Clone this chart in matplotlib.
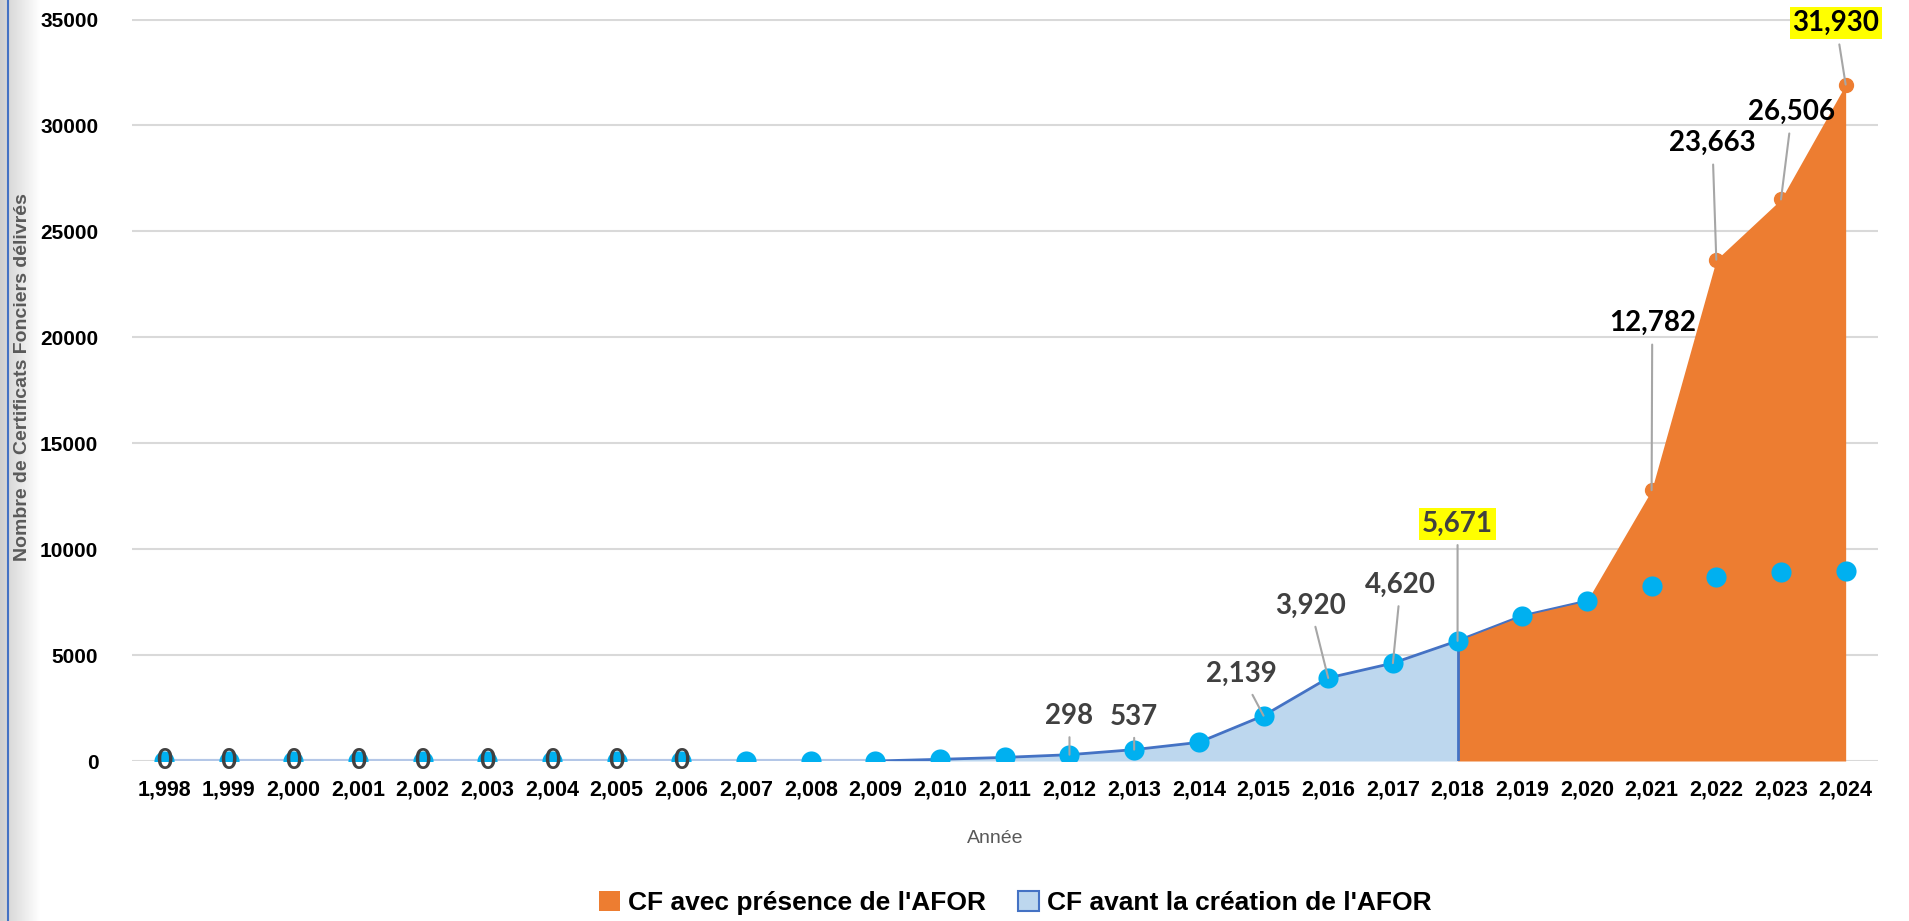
import numpy as np
import matplotlib.pyplot as plt
from matplotlib.patches import Patch
from matplotlib.colors import LinearSegmentedColormap

years = list(range(1998, 2025))

# CF cumulés avant la création de l'AFOR (série bleue)
cf_avant = [0, 0, 0, 0, 0, 0, 0, 0, 0, 0, 0, 0,
            80, 170, 298, 537, 880, 2139, 3920, 4620, 5671,
            6850, 7550, 8270, 8680, 8900, 8960]

# CF cumulés avec présence de l'AFOR (série orange, à partir de 2018)
afor_years = [2018, 2019, 2020, 2021, 2022, 2023, 2024]
cf_afor = [5671, 6850, 7550, 12782, 23663, 26506, 31930]

# étiquettes de données : année et position (x, y) du texte
blue_lbl_years = [2012, 2013, 2015, 2016, 2017, 2018]
blue_lbl_xy = [(14.0, 2130), (15.0, 2100), (16.66, 4100), (17.72, 7335), (19.12, 8312), (20.0, 11199)]
orange_lbl_years = [2021, 2022, 2023, 2024]
orange_lbl_xy = [(23.01, 20663), (23.94, 29161), (25.17, 30625), (25.85, 34827)]
highlight_years = [2018, 2024]

NARROW = ['Liberation Sans Narrow', 'Liberation Sans', 'DejaVu Sans']
LABEL = ['Lato', 'DejaVu Sans']

BLUE_FILL = '#BDD7EE'
BLUE_LINE = '#4472C4'
BLUE_DOT = '#00B0F0'
ORANGE = '#ED7D31'
LEADER = '#A6A6A6'

W, H = 1909, 921
fig = plt.figure(figsize=(W / 100, H / 100), dpi=100, facecolor='white')
ax = fig.add_axes([131.6 / W, 1 - 761 / H, (1878 - 131.6) / W, (761 - 19.5) / H])

x = np.arange(len(years))
xa = np.array([years.index(y) for y in afor_years])
i18 = years.index(2018)
i09 = years.index(2009)

# aire bleue jusqu'en 2018, ligne bleue, puis aire orange par-dessus
ax.fill_between(x[:i18 + 1], cf_avant[:i18 + 1], color=BLUE_FILL, lw=0, zorder=1)
ax.plot(x[:i09 + 1], cf_avant[:i09 + 1], color='#B4C7E7', lw=3, zorder=2)
ax.plot(x[i09:], cf_avant[i09:], color=BLUE_LINE, lw=2, zorder=2)
ax.fill_between(xa, cf_afor, color=ORANGE, lw=0, zorder=3)
ax.vlines(i18, 0, cf_avant[i18], color=BLUE_LINE, lw=2, zorder=4)

ax.plot(xa, cf_afor, 'o', ms=10, color=ORANGE, zorder=5)
ax.plot(x, cf_avant, 'o', ms=14.5, color=BLUE_DOT, mec='none', zorder=6)

# zéros affichés sur les premiers points
for i in range(years.index(2006) + 1):
    ax.text(x[i], cf_avant[i], '0', ha='center', va='center', fontsize=20,
            family=LABEL, fontweight='bold', color='#404040', zorder=7)


def label(year, value, pos, color):
    hl = year in highlight_years
    bbox = dict(boxstyle='square,pad=0.1', fc='#FFFF00', ec='none') if hl else None
    ax.annotate(f'{value:,}', xy=(years.index(year), value), xytext=pos,
                ha='center', va='center', fontsize=20, family=LABEL,
                fontweight='bold', color=color, bbox=bbox, zorder=8,
                arrowprops=dict(arrowstyle='-', color=LEADER, lw=1.5,
                                shrinkA=4, shrinkB=0))


for yr, pos in zip(blue_lbl_years, blue_lbl_xy):
    label(yr, cf_avant[years.index(yr)], pos, '#404040')
for yr, pos in zip(orange_lbl_years, orange_lbl_xy):
    label(yr, cf_afor[afor_years.index(yr)], pos, '#000000')

ax.set_xlim(-0.5, len(years) - 0.5)
ax.set_ylim(0, 35000)
ax.set_yticks(np.arange(0, 35001, 5000))
ax.set_xticks(x)
ax.set_xticklabels([f'{y:,}' for y in years])
ax.grid(axis='y', color='#D9D9D9', lw=1.5, zorder=0)
ax.set_axisbelow(True)
for s in ax.spines.values():
    s.set_visible(False)
ax.tick_params(length=0)
ax.tick_params(axis='x', pad=13)
ax.tick_params(axis='y', pad=24)
for t in ax.get_xticklabels():
    t.set_family(NARROW)
    t.set_fontweight('bold')
    t.set_fontsize(15.5)
for t in ax.get_yticklabels():
    t.set_family(NARROW)
    t.set_fontweight('bold')
    t.set_fontsize(15)
ax.set_facecolor('none')

fig.text(23 / W, 1 - 377 / H, 'Nombre de Certificats Fonciers délivrés', rotation=90,
         ha='center', va='center', fontsize=14, family=NARROW, fontweight='bold',
         color='#595959')
fig.text(995 / W, 1 - 838 / H, 'Année', ha='center', va='center', fontsize=14,
         family=NARROW, color='#595959')

handles = [Patch(fc=ORANGE, ec='none'), Patch(fc=BLUE_FILL, ec=BLUE_LINE, lw=1.5)]
fig.legend(handles, ["CF avec présence de l'AFOR", "CF avant la création de l'AFOR"],
           loc='center', bbox_to_anchor=(1015 / W, 1 - 903 / H), ncol=2, frameon=False,
           prop=dict(family=NARROW, weight='bold', size=19), handlelength=0.8,
           handleheight=0.8, handletextpad=0.3, columnspacing=1.2, borderpad=0)

# bordure gauche : ombre grise et trait bleu
edge = fig.add_axes([0, 0, 40 / W, 1], zorder=-1)
cmap = LinearSegmentedColormap.from_list('edge', ['#cfcfcf', '#e6e6e6', '#ffffff'])
edge.imshow(np.linspace(0, 1, 64)[None, :], cmap=cmap, aspect='auto', extent=(0, 40, 0, 1))
edge.axvline(8, color=BLUE_LINE, lw=1.5)
edge.set_xlim(0, 40)
edge.axis('off')

fig.savefig('out.png', dpi=100, facecolor='white')
